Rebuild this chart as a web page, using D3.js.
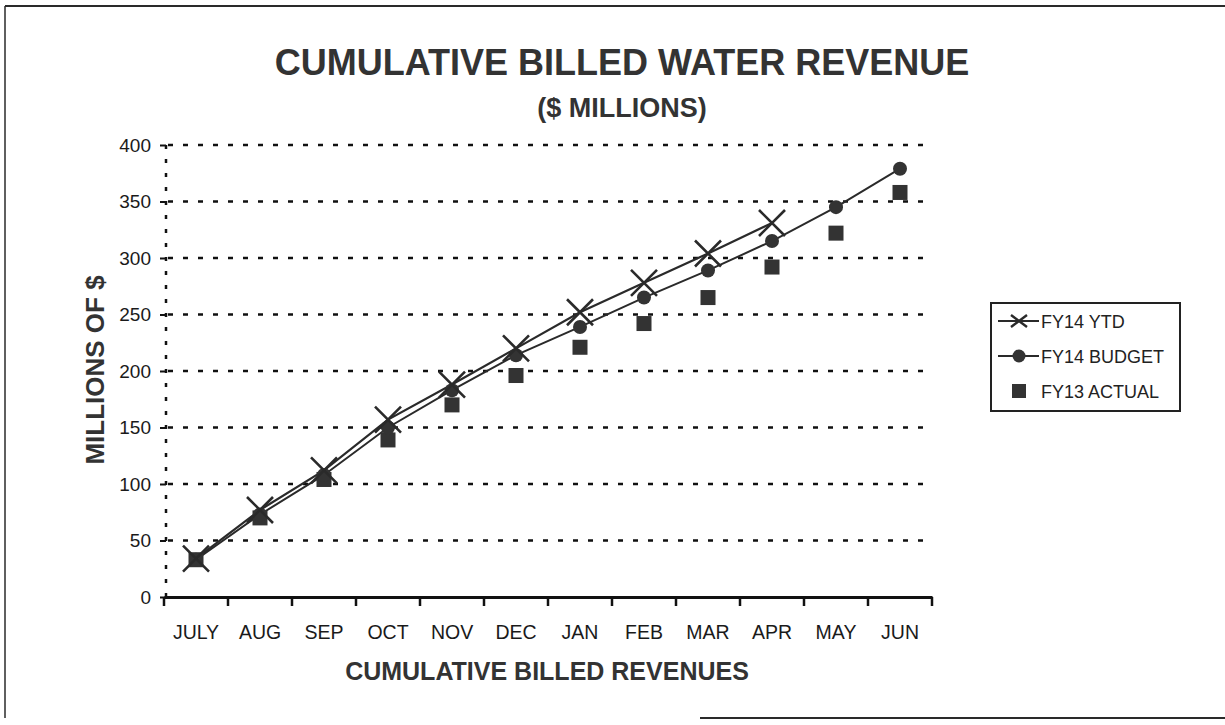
<!DOCTYPE html>
<html>
<head>
<meta charset="utf-8">
<script src="https://cdn.jsdelivr.net/npm/d3@7"></script>
<style>
  body { margin: 0; background: #fff; }
  svg { font-family: Arial, "Liberation Sans", sans-serif; }
</style>
</head>
<body>
<div id="chart"></div>
<script>
// data
const months = ['JULY', 'AUG', 'SEP', 'OCT', 'NOV', 'DEC', 'JAN', 'FEB', 'MAR', 'APR', 'MAY', 'JUN']
const fy14Ytd = [34, 77, 112, 157, 188, 220, 252, 278, 304, 331]
const fy14Budget = [33, 73, 108, 150, 183, 214, 239, 265, 289, 315, 345, 379]
const fy13Actual = [33, 70, 104, 139, 170, 196, 221, 242, 265, 292, 322, 358]
const yTicks = [0, 50, 100, 150, 200, 250, 300, 350, 400]

const W = 1225, H = 725
const ink = '#2a2a2a'

const svg = d3.select('#chart').append('svg')
  .attr('width', W)
  .attr('height', H)

// page frame from the scan
svg.append('line').attr('x1', 5).attr('y1', 6).attr('x2', 1225).attr('y2', 6)
  .attr('stroke', ink).attr('stroke-width', 2)
svg.append('line').attr('x1', 5).attr('y1', 6).attr('x2', 5).attr('y2', 718)
  .attr('stroke', ink).attr('stroke-width', 1.5)
svg.append('line').attr('x1', 700).attr('y1', 718).attr('x2', 1225).attr('y2', 718)
  .attr('stroke', ink).attr('stroke-width', 2)

const x = d3.scaleBand().domain(months).range([164, 932])
const y = d3.scaleLinear().domain([0, 400]).range([597, 145])
const cx = (d, i) => x(months[i]) + x.bandwidth() / 2

// gridlines
svg.append('g')
  .selectAll('line')
  .data(yTicks.filter(d => d > 0))
  .enter()
  .append('line')
  .attr('x1', 168)
  .attr('x2', 932)
  .attr('y1', d => y(d))
  .attr('y2', d => y(d))
  .attr('stroke', '#111')
  .attr('stroke-width', 2.5)
  .attr('stroke-dasharray', '5,10')

// y axis (dotted in the scan)
svg.append('line')
  .attr('x1', 166).attr('x2', 166)
  .attr('y1', y(400)).attr('y2', y(0))
  .attr('stroke', '#111').attr('stroke-width', 2.5)
  .attr('stroke-dasharray', '4,10')

const yAxis = svg.append('g')
  .attr('transform', 'translate(166,0)')
  .call(d3.axisLeft(y).tickValues(yTicks).tickSize(6).tickPadding(9))
yAxis.select('.domain').remove()
yAxis.selectAll('line').attr('stroke', '#111').attr('stroke-width', 2)
yAxis.selectAll('text')
  .attr('font-size', 19)
  .attr('fill', '#1a1a1a')
  .attr('font-family', 'Arial, "Liberation Sans", sans-serif')

// x axis
const xAxis = svg.append('g')
  .attr('transform', 'translate(0,' + y(0) + ')')
  .call(d3.axisBottom(x).tickSize(0).tickPadding(28))
xAxis.select('.domain').attr('stroke', '#111').attr('stroke-width', 3)
xAxis.selectAll('text')
  .attr('font-size', 19.5)
  .attr('fill', '#1a1a1a')
  .attr('font-family', 'Arial, "Liberation Sans", sans-serif')
xAxis.selectAll('.bound')
  .data(d3.range(months.length + 1))
  .enter()
  .append('line')
  .attr('x1', i => 164 + i * x.step())
  .attr('x2', i => 164 + i * x.step())
  .attr('y1', 0)
  .attr('y2', 9)
  .attr('stroke', '#111')
  .attr('stroke-width', 2.5)

// series lines
const line = d3.line().x(cx).y(d => y(d))
svg.append('path').datum(fy14Budget)
  .attr('d', line).attr('fill', 'none').attr('stroke', ink).attr('stroke-width', 2)
svg.append('path').datum(fy14Ytd)
  .attr('d', line).attr('fill', 'none').attr('stroke', ink).attr('stroke-width', 2.2)

// FY13 actual squares
svg.append('g').selectAll('rect')
  .data(fy13Actual)
  .enter()
  .append('rect')
  .attr('x', (d, i) => cx(d, i) - 7.5)
  .attr('y', d => y(d) - 7.5)
  .attr('width', 15)
  .attr('height', 15)
  .attr('fill', '#333')

// FY14 budget circles
svg.append('g').selectAll('circle')
  .data(fy14Budget)
  .enter()
  .append('circle')
  .attr('cx', cx)
  .attr('cy', d => y(d))
  .attr('r', 7)
  .attr('fill', '#333')

// FY14 YTD crosses
const s = 13
svg.append('g').selectAll('path')
  .data(fy14Ytd)
  .enter()
  .append('path')
  .attr('d', (d, i) => {
    const px = cx(d, i), py = y(d)
    return 'M' + (px - s) + ',' + (py - s) + 'L' + (px + s) + ',' + (py + s) +
      'M' + (px - s) + ',' + (py + s) + 'L' + (px + s) + ',' + (py - s)
  })
  .attr('stroke', ink)
  .attr('stroke-width', 2.6)
  .attr('fill', 'none')

// titles
svg.append('text')
  .attr('x', 622).attr('y', 75)
  .attr('text-anchor', 'middle')
  .attr('font-size', 36).attr('font-weight', 'bold').attr('fill', '#333')
  .text('CUMULATIVE BILLED WATER REVENUE')
svg.append('text')
  .attr('x', 622).attr('y', 117)
  .attr('text-anchor', 'middle')
  .attr('font-size', 27).attr('font-weight', 'bold').attr('fill', '#333')
  .text('($ MILLIONS)')
svg.append('text')
  .attr('x', 547).attr('y', 680)
  .attr('text-anchor', 'middle')
  .attr('font-size', 25).attr('font-weight', 'bold').attr('fill', '#333')
  .text('CUMULATIVE BILLED REVENUES')
svg.append('text')
  .attr('transform', 'translate(104,370)rotate(-90)')
  .attr('text-anchor', 'middle')
  .attr('font-size', 26).attr('font-weight', 'bold').attr('fill', '#333')
  .text('MILLIONS OF $')

// legend
const legend = svg.append('g').attr('transform', 'translate(991,303)')
legend.append('rect')
  .attr('width', 189).attr('height', 108)
  .attr('fill', '#fff').attr('stroke', '#222').attr('stroke-width', 2)
const items = ['FY14 YTD', 'FY14 BUDGET', 'FY13 ACTUAL']
items.forEach((name, i) => {
  const ly = 18 + i * 35
  const g = legend.append('g').attr('transform', 'translate(0,' + ly + ')')
  if (i < 2) {
    g.append('line').attr('x1', 7).attr('x2', 48).attr('y1', 0).attr('y2', 0)
      .attr('stroke', ink).attr('stroke-width', 2)
  }
  if (i === 0) {
    g.append('path').attr('d', 'M20,-6L36,6M20,6L36,-6')
      .attr('stroke', ink).attr('stroke-width', 2.4)
  } else if (i === 1) {
    g.append('circle').attr('cx', 28).attr('cy', 0).attr('r', 6.5).attr('fill', '#333')
  } else {
    g.append('rect').attr('x', 21).attr('y', -7).attr('width', 14).attr('height', 14).attr('fill', '#333')
  }
  g.append('text')
    .attr('x', 50).attr('y', 6.5)
    .attr('font-size', 18).attr('fill', '#222')
    .text(name)
})
</script>
</body>
</html>
